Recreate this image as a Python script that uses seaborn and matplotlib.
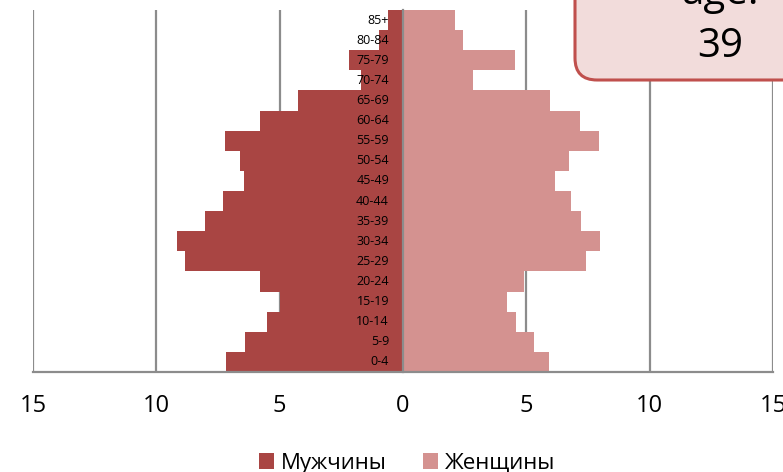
import numpy as np
import pandas as pd
import matplotlib.pyplot as plt
import seaborn as sns
from matplotlib.patches import FancyBboxPatch

# age groups, bottom to top
ages = ["0-4", "5-9", "10-14", "15-19", "20-24", "25-29", "30-34", "35-39",
        "40-44", "45-49", "50-54", "55-59", "60-64", "65-69", "70-74",
        "75-79", "80-84", "85+"]
men = [7.17, 6.39, 5.51, 4.99, 5.81, 8.82, 9.16, 8.03, 7.31, 6.46, 6.62,
       7.22, 5.78, 4.27, 1.70, 2.18, 0.96, 0.62]
women = [5.92, 5.30, 4.60, 4.20, 4.90, 7.42, 8.00, 7.23, 6.82, 6.15, 6.73,
         7.93, 7.19, 5.97, 2.85, 4.56, 2.44, 2.10]
series = ["Мужчины", "Женщины"]
xticks = [-15, -10, -5, 0, 5, 10, 15]
median_age = "39"

colors = {"Мужчины": "#A94543", "Женщины": "#D49290"}

sns.set_style("white")
plt.rcParams["font.family"] = ["Open Sans", "DejaVu Sans"]
plt.rcParams["text.color"] = "black"
plt.rcParams["xtick.labelcolor"] = "black"

df = pd.DataFrame({
    "age": ages * 2,
    "sex": [series[0]] * len(ages) + [series[1]] * len(ages),
    "value": [-v for v in men] + women,
})

fig = plt.figure(figsize=(7.83, 4.72), dpi=100)
ax = fig.add_axes([33 / 783, 100 / 472, 740 / 783, 362 / 472])

order = ages[::-1]
sns.barplot(data=df, x="value", y="age", hue="sex", order=order,
            hue_order=series, palette=colors, orient="h", dodge=False,
            width=1.0, saturation=1, linewidth=0, ax=ax)

ax.set_xlim(-15, 15)
ax.set_xlabel("")
ax.set_ylabel("")
ax.set_xticks(xticks)
ax.set_xticklabels([str(abs(t)) for t in xticks])

grid_col = "#8c8c8c"
ax.xaxis.grid(True, color=grid_col, linewidth=1.6)
ax.set_axisbelow(True)

for s in ["top", "right"]:
    ax.spines[s].set_visible(False)
ax.spines["left"].set_position(("data", 0))
ax.spines["left"].set_color(grid_col)
ax.spines["left"].set_linewidth(1.6)
ax.spines["left"].set_zorder(3)
ax.spines["bottom"].set_color(grid_col)
ax.spines["bottom"].set_linewidth(1.6)

ax.set_yticks(np.arange(-0.5, len(ages), 1))
ax.tick_params(axis="y", direction="out", length=4, width=1.4,
               color=grid_col, labelleft=False)
ax.tick_params(axis="x", direction="out", length=8, width=1.4,
               color=grid_col, labelsize=17, pad=8)

for i, lab in enumerate(order):
    ax.text(-0.57, i, lab, ha="right", va="center", fontsize=9, zorder=4)

handles, labels = ax.get_legend_handles_labels()
ax.get_legend().remove()
fig.legend(handles, labels, loc="center", ncol=2, frameon=False,
           bbox_to_anchor=(407 / 783, 9 / 472), fontsize=16,
           handlelength=0.7, handleheight=0.7, handletextpad=0.3,
           columnspacing=1.6)

# callout box, cut off at the top right corner
box = FancyBboxPatch((5.75, 3.92), 3.0, 1.5,
                     boxstyle="round,pad=0,rounding_size=0.22",
                     transform=fig.dpi_scale_trans, facecolor="#F2DCDB",
                     edgecolor="#C0504D", linewidth=2.2, zorder=5)
fig.add_artist(box)
fig.text(720 / 783, (472 - 4) / 472, "age:", ha="center", va="baseline",
         fontsize=29, zorder=6)
fig.text(720 / 783, (472 - 47) / 472, median_age, ha="center", va="center",
         fontsize=29, zorder=6)

fig.savefig("out.png", dpi=100)
